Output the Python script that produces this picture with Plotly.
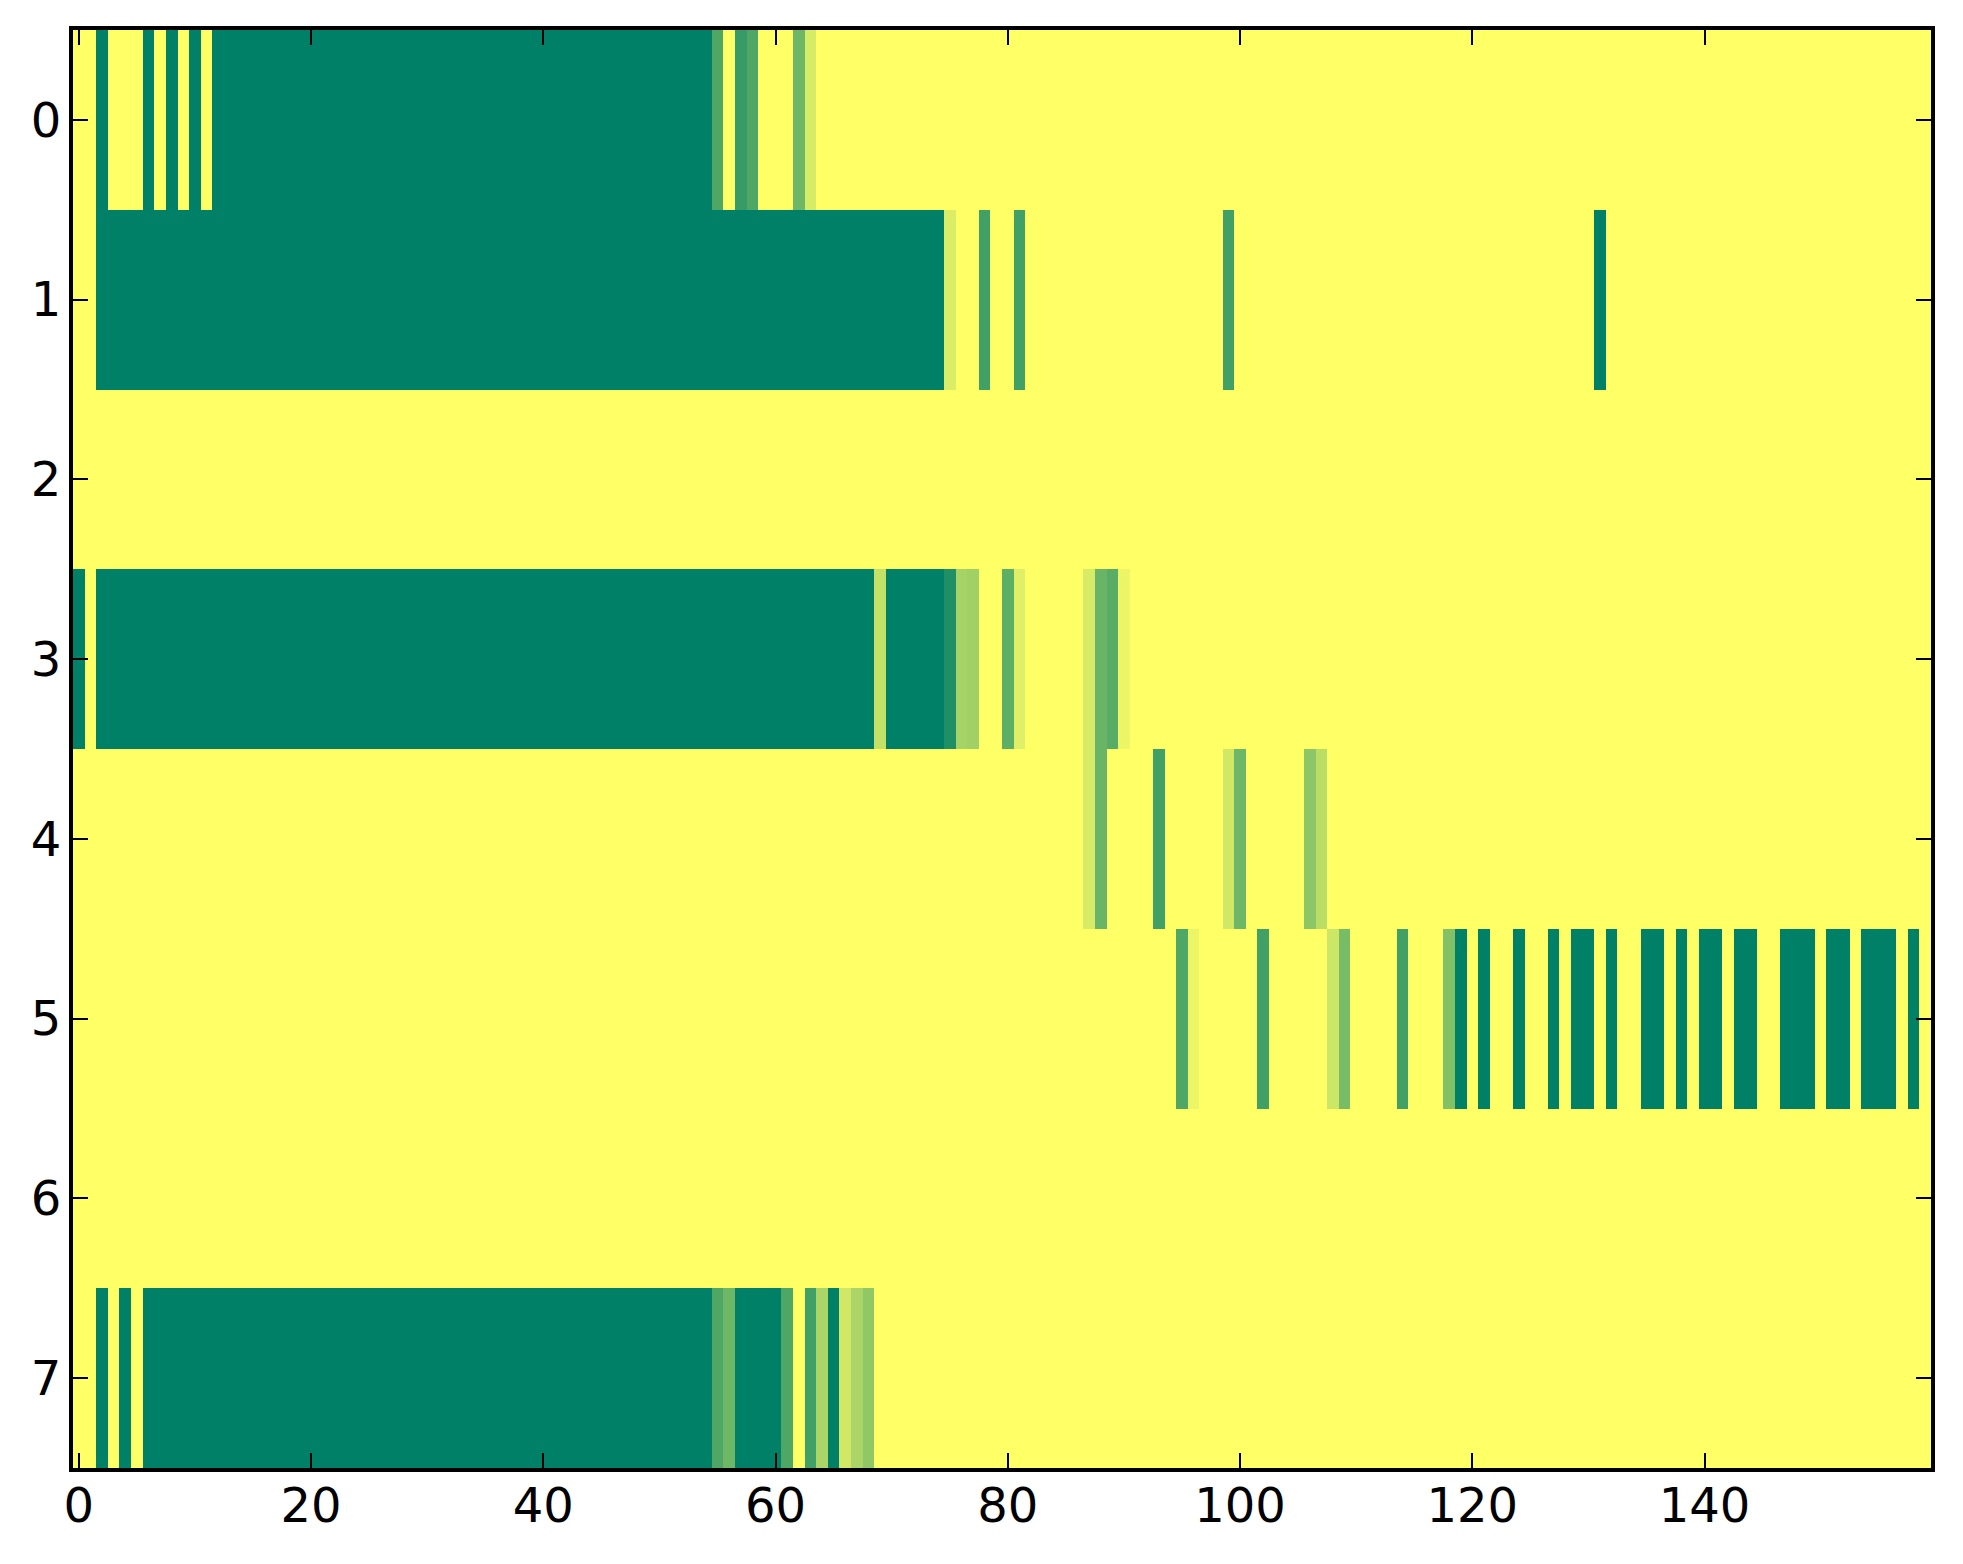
import numpy as np
import plotly.graph_objects as go

# row labels and column count
rows = [0, 1, 2, 3, 4, 5, 6, 7]
n_cols = 160

# runs of (first col, last col, value) per row, everything else is 0
row_0 = [(2, 2, 1.0), (6, 6, 1.0), (8, 8, 1.0), (10, 10, 1.0), (12, 54, 1.0),
         (55, 55, 0.69), (57, 57, 0.79), (58, 58, 0.69), (62, 62, 0.57), (63, 63, 0.16)]
row_1 = [(2, 74, 1.0), (75, 75, 0.14), (78, 78, 0.75), (81, 81, 0.75),
         (99, 99, 0.75), (131, 131, 1.0)]
row_2 = []
row_3 = [(0, 0, 1.0), (2, 68, 1.0), (69, 69, 0.24), (70, 74, 1.0), (75, 75, 0.88),
         (76, 76, 0.35), (77, 77, 0.37), (80, 80, 0.63), (81, 81, 0.12),
         (87, 87, 0.16), (88, 88, 0.59), (89, 89, 0.65), (90, 90, 0.08)]
row_4 = [(87, 87, 0.16), (88, 88, 0.59), (93, 93, 0.75), (99, 99, 0.18),
         (100, 100, 0.57), (106, 106, 0.45), (107, 107, 0.27)]
row_5 = [(95, 95, 0.69), (96, 96, 0.08), (102, 102, 0.75), (108, 108, 0.20),
         (109, 109, 0.53), (114, 114, 0.75), (118, 118, 0.49), (119, 119, 1.0),
         (121, 121, 1.0), (124, 124, 1.0), (127, 127, 1.0), (129, 130, 1.0),
         (132, 132, 1.0), (135, 136, 1.0), (138, 138, 1.0), (140, 141, 1.0),
         (143, 144, 1.0), (147, 149, 1.0), (151, 152, 1.0), (154, 156, 1.0),
         (158, 158, 1.0)]
row_6 = []
row_7 = [(2, 2, 1.0), (4, 4, 1.0), (6, 54, 1.0), (55, 55, 0.69), (56, 56, 0.57),
         (57, 60, 1.0), (61, 61, 0.69), (63, 63, 0.75), (64, 64, 0.33), (65, 65, 1.0),
         (66, 66, 0.18), (67, 67, 0.33), (68, 68, 0.43)]

x_ticks = [0, 20, 40, 60, 80, 100, 120, 140]

z = np.zeros((len(rows), n_cols))
for r, runs in enumerate([row_0, row_1, row_2, row_3, row_4, row_5, row_6, row_7]):
    for a, b, v in runs:
        z[r, a:b + 1] = v

# matplotlib summer_r
summer_r = [[0.0, 'rgb(255,255,102)'], [1.0, 'rgb(0,128,102)']]

fig = go.Figure()
fig.add_trace(
    go.Heatmap(
        z=z,
        x=list(range(n_cols)),
        y=rows,
        colorscale=summer_r,
        zmin=0,
        zmax=1,
        showscale=False,
        zsmooth=False
    )
)

axis_style = dict(
    showline=True,
    linecolor='black',
    linewidth=4,
    mirror='ticks',
    ticks='inside',
    ticklen=15,
    tickwidth=2,
    tickcolor='black',
    showgrid=False,
    zeroline=False,
    tickfont=dict(family='DejaVu Sans', size=48, color='black'),
)

# page body has an 8px margin, so the figure is a bit smaller than the window
fig.update_layout(
    width=1947,
    height=1548,
    margin=dict(l=65, r=24, t=22, b=88),
    paper_bgcolor='white',
    plot_bgcolor='white',
)
fig.update_xaxes(range=[-0.5, 159.5], tickvals=x_ticks, ticklabelstandoff=-8, **axis_style)
fig.update_yaxes(range=[7.5, -0.5], tickvals=rows, ticklabelstandoff=-2, **axis_style)

fig.write_html("out.html")
